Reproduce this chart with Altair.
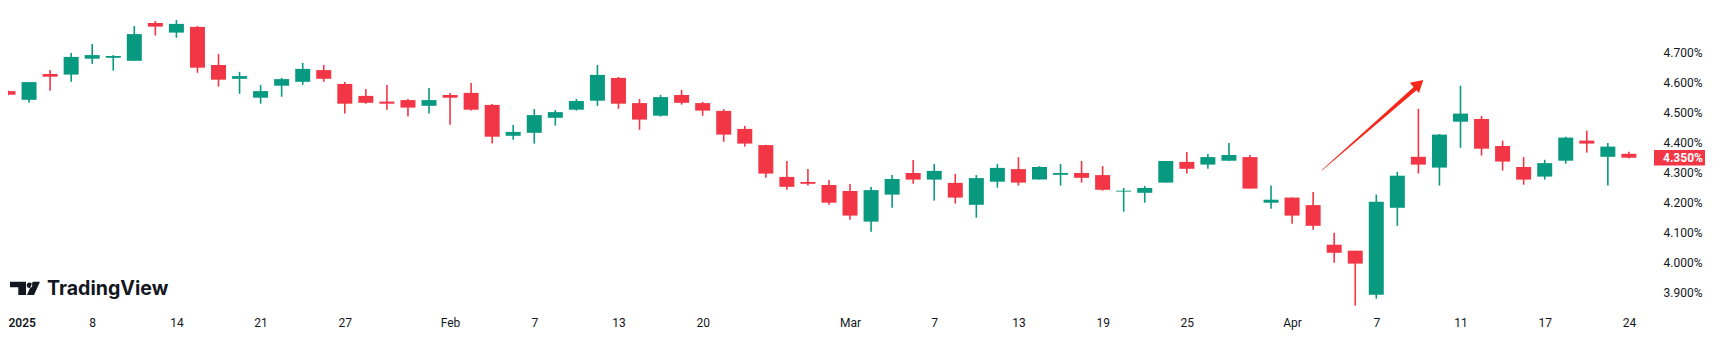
import json
import altair as alt
import pandas as pd

# ---- data (US 10Y yield, daily candles) ----
dates = ["2025-01-02", "2025-01-03", "2025-01-06", "2025-01-07", "2025-01-08", "2025-01-09",
         "2025-01-10", "2025-01-13", "2025-01-14", "2025-01-15", "2025-01-16", "2025-01-17",
         "2025-01-21", "2025-01-22", "2025-01-23", "2025-01-24", "2025-01-27", "2025-01-28",
         "2025-01-29", "2025-01-30", "2025-01-31", "2025-02-03", "2025-02-04", "2025-02-05",
         "2025-02-06", "2025-02-07", "2025-02-10", "2025-02-11", "2025-02-12", "2025-02-13",
         "2025-02-14", "2025-02-18", "2025-02-19", "2025-02-20", "2025-02-21", "2025-02-24",
         "2025-02-25", "2025-02-26", "2025-02-27", "2025-02-28", "2025-03-03", "2025-03-04",
         "2025-03-05", "2025-03-06", "2025-03-07", "2025-03-10", "2025-03-11", "2025-03-12",
         "2025-03-13", "2025-03-14", "2025-03-17", "2025-03-18", "2025-03-19", "2025-03-20",
         "2025-03-21", "2025-03-24", "2025-03-25", "2025-03-26", "2025-03-27", "2025-03-28",
         "2025-03-31", "2025-04-01", "2025-04-02", "2025-04-03", "2025-04-04", "2025-04-07",
         "2025-04-08", "2025-04-09", "2025-04-10", "2025-04-11", "2025-04-14", "2025-04-15",
         "2025-04-16", "2025-04-17", "2025-04-21", "2025-04-22", "2025-04-23", "2025-04-24"]

opens = [4.572, 4.543, 4.629, 4.627, 4.680, 4.683, 4.673, 4.799, 4.767, 4.786, 4.659, 4.613,
         4.550, 4.590, 4.603, 4.642, 4.596, 4.556, 4.537, 4.542, 4.523, 4.559, 4.566, 4.526,
         4.423, 4.433, 4.483, 4.510, 4.540, 4.616, 4.532, 4.490, 4.559, 4.532, 4.506, 4.446,
         4.392, 4.286, 4.269, 4.259, 4.239, 4.137, 4.227, 4.299, 4.277, 4.266, 4.193, 4.270,
         4.312, 4.277, 4.293, 4.299, 4.292, 4.237, 4.233, 4.267, 4.336, 4.327, 4.340, 4.352,
         4.200, 4.217, 4.192, 4.060, 4.040, 3.893, 4.183, 4.353, 4.317, 4.470, 4.479, 4.389,
         4.319, 4.287, 4.340, 4.407, 4.353, 4.363]

highs = [4.574, 4.602, 4.642, 4.699, 4.729, 4.692, 4.789, 4.806, 4.809, 4.789, 4.696, 4.636,
         4.592, 4.616, 4.666, 4.659, 4.602, 4.579, 4.592, 4.546, 4.582, 4.566, 4.599, 4.529,
         4.459, 4.512, 4.509, 4.546, 4.659, 4.619, 4.546, 4.559, 4.576, 4.536, 4.512, 4.456,
         4.393, 4.339, 4.312, 4.276, 4.262, 4.252, 4.292, 4.342, 4.329, 4.296, 4.292, 4.329,
         4.352, 4.322, 4.329, 4.339, 4.322, 4.249, 4.256, 4.339, 4.369, 4.362, 4.399, 4.359,
         4.257, 4.217, 4.236, 4.100, 4.040, 4.227, 4.303, 4.513, 4.429, 4.590, 4.489, 4.407,
         4.352, 4.343, 4.420, 4.440, 4.399, 4.370]

lows = [4.558, 4.533, 4.573, 4.603, 4.663, 4.640, 4.673, 4.757, 4.750, 4.633, 4.587, 4.563,
        4.530, 4.553, 4.593, 4.603, 4.497, 4.530, 4.510, 4.487, 4.497, 4.460, 4.507, 4.397,
        4.410, 4.397, 4.457, 4.507, 4.523, 4.513, 4.443, 4.487, 4.527, 4.490, 4.403, 4.387,
        4.283, 4.243, 4.257, 4.193, 4.143, 4.103, 4.183, 4.263, 4.207, 4.197, 4.150, 4.250,
        4.257, 4.277, 4.257, 4.267, 4.240, 4.170, 4.200, 4.267, 4.297, 4.313, 4.340, 4.247,
        4.180, 4.130, 4.110, 4.000, 3.857, 3.880, 4.123, 4.297, 4.257, 4.383, 4.357, 4.307,
        4.260, 4.277, 4.330, 4.367, 4.257, 4.347]

closes = [4.560, 4.602, 4.620, 4.686, 4.692, 4.689, 4.762, 4.787, 4.796, 4.650, 4.610, 4.622,
          4.572, 4.612, 4.646, 4.613, 4.530, 4.533, 4.530, 4.517, 4.542, 4.550, 4.510, 4.420,
          4.436, 4.492, 4.502, 4.539, 4.626, 4.530, 4.477, 4.552, 4.533, 4.507, 4.427, 4.397,
          4.297, 4.253, 4.263, 4.200, 4.157, 4.242, 4.279, 4.277, 4.306, 4.217, 4.282, 4.316,
          4.267, 4.319, 4.299, 4.283, 4.243, 4.240, 4.249, 4.339, 4.313, 4.352, 4.359, 4.247,
          4.210, 4.157, 4.123, 4.033, 3.997, 4.203, 4.290, 4.327, 4.427, 4.497, 4.380, 4.337,
          4.277, 4.332, 4.417, 4.397, 4.387, 4.350]

# x-axis tick labels (candle index -> text)
tick_idx = [0, 4, 8, 12, 16, 21, 25, 29, 33, 40, 44, 48, 52, 56, 61, 65, 69, 73, 77]
tick_text = ["2025", "8", "14", "21", "27", "Feb", "7", "13", "20", "Mar",
             "7", "13", "19", "25", "Apr", "7", "11", "17", "24"]

# y-axis tick values (percent)
y_ticks = [3.9, 4.0, 4.1, 4.2, 4.3, 4.4, 4.5, 4.6, 4.7]

# red arrow annotation (index, yield, stroke width)
arrow_x = [62.43, 66.87]
arrow_y = [4.309, 4.582]
arrow_w = [0.4, 4.2]
head_x = [67.02]
head_y = [4.596]

GREEN = "#089981"
RED = "#F23645"
TEXT = "#131722"
FONT = "Roboto"

n = len(dates)
df = pd.DataFrame({
    "i": list(range(n)),
    "date": dates,
    "open": opens,
    "high": highs,
    "low": lows,
    "close": closes,
})
df["dir"] = ["up" if c >= o else "down" for o, c in zip(opens, closes)]

labels_by_idx = [""] * n
for k, t in zip(tick_idx, tick_text):
    labels_by_idx[k] = t
label_expr = json.dumps(labels_by_idx) + "[datum.value]"

x_scale = alt.Scale(domain=[0, 78.24], nice=False, zero=False, padding=0)
y_scale = alt.Scale(domain=[3.849, 4.849], nice=False, zero=False, padding=0)

x_axis = alt.Axis(values=tick_idx, labelExpr=label_expr, title=None, grid=False,
                  domain=False, ticks=False, tickSize=0, labelPadding=9.5,
                  labelFont=FONT, labelFontSize=12, labelColor=TEXT,
                  labelOverlap=False, labelFlush=False,
                  labelAlign={"condition": {"test": "datum.value === 0", "value": "left"},
                              "value": "center"},
                  labelFontWeight={"condition": {"test": "datum.value === 0", "value": 600},
                                   "value": 400})
y_axis = alt.Axis(orient="right", values=y_ticks, title=None, grid=False,
                  domain=False, ticks=False, tickSize=0, labelPadding=8,
                  labelExpr="format(datum.value, '.3f') + '%'",
                  labelFont=FONT, labelFontSize=12, labelColor=TEXT,
                  labelOverlap=False)


def X(field):
    return alt.X(f"{field}:Q", scale=x_scale, axis=x_axis, title=None)


def Y(field):
    return alt.Y(f"{field}:Q", scale=y_scale, axis=y_axis, title=None)


color = alt.Color("dir:N", scale=alt.Scale(domain=["up", "down"], range=[GREEN, RED]),
                  legend=None)

base = alt.Chart(df)

wicks = base.mark_rule(strokeWidth=1.6, clip=True).encode(
    x=X("i"), y=Y("low"), y2="high:Q", color=color)

bodies = base.mark_bar(size=15, clip=True).encode(
    x=X("i"), y=Y("open"), y2="close:Q", color=color)

# arrow
arrow_df = pd.DataFrame({"ax": arrow_x, "ay": arrow_y, "aw": arrow_w})
arrow = alt.Chart(arrow_df).mark_trail(color="#F5281C").encode(
    x=X("ax"), y=Y("ay"), size=alt.Size("aw:Q", scale=None, legend=None))
head_df = pd.DataFrame({"hx": head_x, "hy": head_y})
head = alt.Chart(head_df).mark_point(shape="triangle-up", size=190, filled=True,
                                     opacity=1, angle=48.3, color="#F5281C",
                                     strokeWidth=0).encode(
    x=X("hx"), y=Y("hy"))

# last price tag
last_df = pd.DataFrame({"v": [closes[-1]], "t": [f"{closes[-1]:.3f}%"]})
tag_box = alt.Chart(last_df).mark_point(
    shape="M -1 -0.3 L 1 -0.3 L 1 0.3 L -1 0.3 Z", size=52 * 52, filled=True,
    opacity=1, color=RED, strokeWidth=0).encode(x=alt.value(1672), y=Y("v"))
tag_text = alt.Chart(last_df).mark_text(
    align="left", baseline="middle", color="white", font=FONT, fontSize=12,
    fontWeight="bold").encode(x=alt.value(1655), y=Y("v"), text="t:N")

# TradingView watermark
one = pd.DataFrame({"a": [0]})
logo_path = ("M -1 -0.443 L 0.067 -0.443 L 0.067 0.443 L -0.447 0.443 L -0.447 -0.07 "
             "L -1 -0.07 Z "
             "M 0.113 -0.21 A 0.187 0.187 0 1 0 0.487 -0.21 "
             "A 0.187 0.187 0 1 0 0.113 -0.21 Z "
             "M 0.52 -0.443 L 1 -0.443 L 0.6 0.443 L 0.13 0.443 Z")
logo_mark = alt.Chart(one).mark_point(shape=logo_path, size=900, filled=True, opacity=1,
                                      color=TEXT, strokeWidth=0).encode(
    x=alt.value(17), y=alt.value(280.4))
logo_text = alt.Chart(one).mark_text(align="left", baseline="alphabetic", font="Inter",
                                     fontSize=19.6, fontWeight=700, color=TEXT).encode(
    x=alt.value(39), y=alt.value(287), text=alt.value("TradingView"))

chart = alt.layer(wicks, bodies, arrow, head, tag_box, tag_text, logo_mark, logo_text).properties(
    width=1647, height=300, background="white",
    autosize=alt.AutoSizeParams(type="none"),
    padding={"left": 0, "top": 0, "right": 50, "bottom": 34},
).configure_view(stroke=None)

chart.save("out.html", embed_options={"renderer": "svg", "actions": False})
